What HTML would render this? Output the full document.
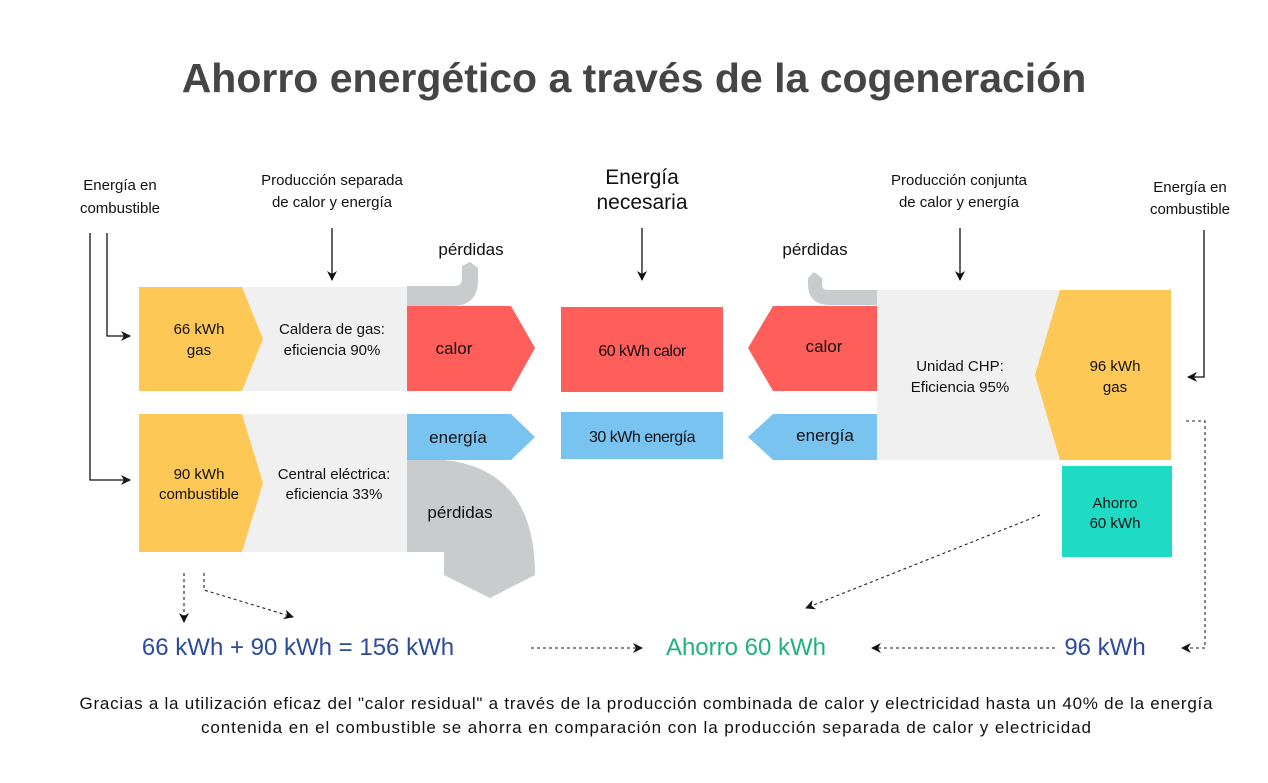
<!DOCTYPE html>
<html><head><meta charset="utf-8"><style>
body{margin:0;background:#fff}
svg{display:block;font-family:"Liberation Sans",sans-serif}
</style></head><body>
<svg width="1268" height="783" viewBox="0 0 1268 783">
<defs>
<marker id="a" markerWidth="10" markerHeight="10" refX="9" refY="5" orient="auto" markerUnits="userSpaceOnUse"><path d="M0,0 L10,5 L0,10 L3,5z" fill="#111"/></marker>
</defs>
<text x="634" y="92" text-anchor="middle" font-size="41" font-weight="bold" fill="#454545">Ahorro energético a través de la cogeneración</text>

<g font-size="15" fill="#111" text-anchor="middle">
<text x="120" y="190">Energía en</text><text x="120" y="213">combustible</text>
<text x="332" y="185">Producción separada</text><text x="332" y="207">de calor y energía</text>
<text x="642" y="184" font-size="21">Energía</text><text x="642" y="209" font-size="21">necesaria</text>
<text x="959" y="185">Producción conjunta</text><text x="959" y="207">de calor y energía</text>
<text x="1190" y="192">Energía en</text><text x="1190" y="214">combustible</text>
<text x="471" y="255" font-size="17">pérdidas</text>
<text x="815" y="255" font-size="17">pérdidas</text>
</g>

<g stroke="#111" stroke-width="1.3" fill="none" marker-end="url(#a)">
<path d="M90,233 V480 H130"/>
<path d="M107,233 V336 H130"/>
<path d="M332,228 V280"/>
<path d="M642,228 V280"/>
<path d="M960,228 V280"/>
<path d="M1204,230 V377 H1188"/>
</g>

<!-- left top -->
<path d="M407,286 H455 Q462,286 462,278 V266 L470,262 L478,268 V280 Q478,306 452,306 H407 Z" fill="#c8cccd"/>
<rect x="139" y="287" width="268" height="104" fill="#f0f0f0"/>
<path d="M139,287 H242 L263,339 L242,391 H139Z" fill="#fdc855"/>
<path d="M407,306 H511 L535,348 L511,391 H407Z" fill="#fe5f5a"/>
<!-- left bottom -->
<rect x="139" y="414" width="268" height="138" fill="#f0f0f0"/>
<path d="M139,414 H242 L263,483 L242,552 H139Z" fill="#fdc855"/>
<path d="M407,414 H511 L535,437 L511,460 H407Z" fill="#79c3f1"/>
<path d="M407,460 H445 Q535,470 535,575 L490,598 L444,575 V552 H407Z" fill="#c8cccd"/>

<g font-size="15" fill="#111" text-anchor="middle">
<text x="199" y="334">66 kWh</text><text x="199" y="355">gas</text>
<text x="332" y="334">Caldera de gas:</text><text x="332" y="355">eficiencia 90%</text>
<text x="454" y="354" font-size="17">calor</text>
<text x="199" y="479">90 kWh</text><text x="199" y="499">combustible</text>
<text x="334" y="479">Central eléctrica:</text><text x="334" y="499">eficiencia 33%</text>
<text x="458" y="443" font-size="17">energía</text>
<text x="460" y="518" font-size="17">pérdidas</text>
</g>

<!-- center -->
<rect x="561" y="307" width="162" height="85" fill="#fe5f5a"/>
<rect x="561" y="412" width="162" height="47" fill="#79c3f1"/>
<text x="642" y="356" font-size="16" text-anchor="middle" fill="#111" letter-spacing="-0.5">60 kWh calor</text>
<text x="642" y="442" font-size="16" text-anchor="middle" fill="#111" letter-spacing="-0.5">30 kWh energía</text>

<!-- right -->
<path d="M877,290 H828 Q822,290 822,284 V278 L814,272 L808,278 V284 Q808,305 830,305 H877Z" fill="#c8cccd"/>
<rect x="877" y="290" width="184" height="170" fill="#f0f0f0"/>
<path d="M1060,290 H1171 V460 H1060 L1035,375Z" fill="#fdc855"/>
<path d="M877,306 V391 H773 L748,348 L773,306Z" fill="#fe5f5a"/>
<path d="M877,414 V460 H773 L748,437 L773,414Z" fill="#79c3f1"/>
<rect x="1062" y="466" width="110" height="91" fill="#20dbc3"/>
<g font-size="15" fill="#111" text-anchor="middle">
<text x="824" y="352" font-size="17">calor</text>
<text x="825" y="441" font-size="17">energía</text>
<text x="960" y="371">Unidad CHP:</text><text x="960" y="392">Eficiencia 95%</text>
<text x="1115" y="371">96 kWh</text><text x="1115" y="392">gas</text>
<text x="1115" y="508">Ahorro</text><text x="1115" y="528">60 kWh</text>
</g>

<!-- dotted -->
<g stroke="#222" stroke-width="1.1" stroke-dasharray="3,3" fill="none" marker-end="url(#a)">
<path d="M184,573 V622"/>
<path d="M204,573 V590 L293,617"/>
<path d="M531,648 H642"/>
<path d="M1055,648 H872"/>
<path d="M1040,515 L806,608"/>
<path d="M1186,421 H1205 V648 H1182"/>
</g>

<text x="298" y="655" font-size="24" text-anchor="middle" fill="#2d4b9b">66 kWh + 90 kWh = 156 kWh</text>
<text x="746" y="655" font-size="24" text-anchor="middle" fill="#20b27a">Ahorro 60 kWh</text>
<text x="1105" y="655" font-size="24" text-anchor="middle" fill="#2d4b9b">96 kWh</text>

<text x="646" y="709" font-size="17" text-anchor="middle" fill="#111" textLength="1133" lengthAdjust="spacing">Gracias a la utilización eficaz del "calor residual" a través de la producción combinada de calor y electricidad hasta un 40% de la energía</text>
<text x="646" y="733" font-size="17" text-anchor="middle" fill="#111" textLength="890" lengthAdjust="spacing">contenida en el combustible se ahorra en comparación con la producción separada de calor y electricidad</text>
</svg>
</body></html>
